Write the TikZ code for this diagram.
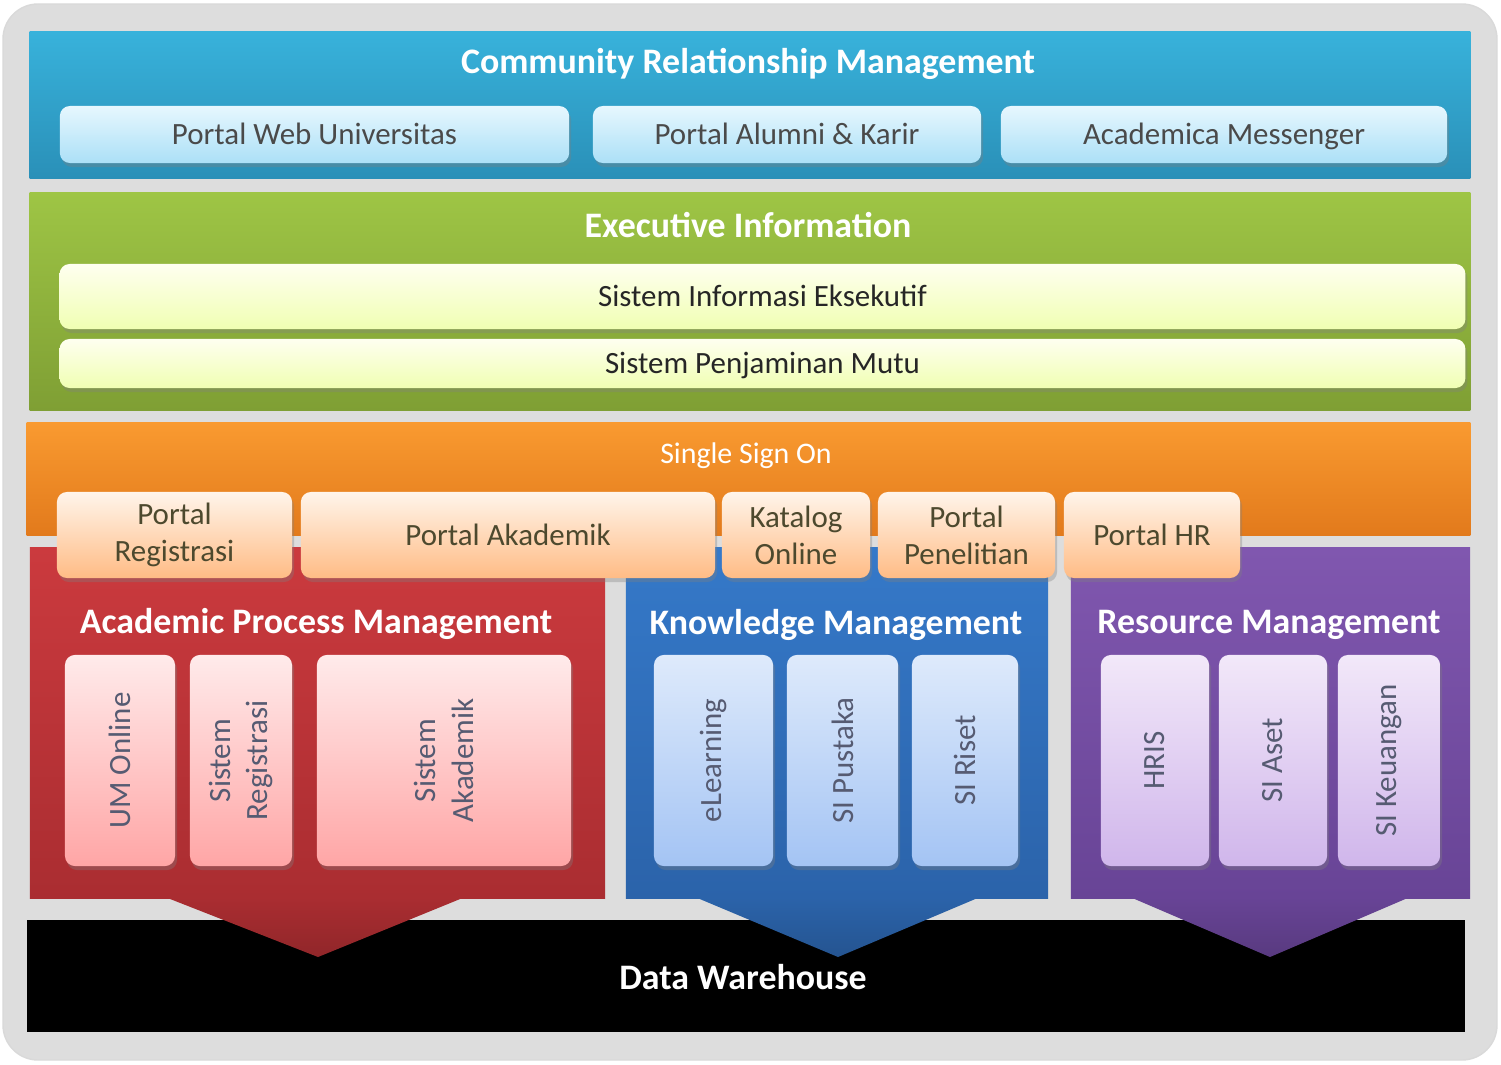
\documentclass[tikz,border=0pt]{standalone}
\usepackage{fontspec}
\setmainfont{Carlito}
\usepackage{tikz}
\usetikzlibrary{shadows}

\definecolor{framegray}{HTML}{DDDDDD}
\definecolor{crmtop}{HTML}{38B2DB}
\definecolor{crmbot}{HTML}{2A90B8}
\definecolor{exetop}{HTML}{9EC545}
\definecolor{exebot}{HTML}{7F9F34}
\definecolor{ssotop}{HTML}{F99A30}
\definecolor{ssobot}{HTML}{E27A1C}
\definecolor{apmtop}{HTML}{CB3A3E}
\definecolor{apmbot}{HTML}{AA2D31}
\definecolor{kmtop}{HTML}{3579C9}
\definecolor{kmbot}{HTML}{2B63AA}
\definecolor{rmtop}{HTML}{8057AF}
\definecolor{rmbot}{HTML}{684496}
\definecolor{crmsubtop}{HTML}{E6F7FE}
\definecolor{crmsubbot}{HTML}{ACE0F7}
\definecolor{kmsubtop}{HTML}{DEEAFB}
\definecolor{kmsubbot}{HTML}{A4C4F4}
\definecolor{rmsubtop}{HTML}{F2E8F9}
\definecolor{rmsubbot}{HTML}{D0B6EB}
\definecolor{subtext}{HTML}{4A4A4A}
\definecolor{vtextc}{HTML}{565B72}

\begin{document}
\begin{tikzpicture}[x=0.01cm,y=-0.01cm,
    band/.style={inner sep=0pt, draw=none},
    head/.style={text=white, font=\bfseries\fontsize{10.2}{12}\selectfont},
    sub/.style={rounded corners=0.1cm, inner sep=0pt, align=center, text=subtext,
        font=\fontsize{8.8}{10.6}\selectfont,
        drop shadow={opacity=0.35, shadow xshift=0.02cm, shadow yshift=-0.04cm}},
    oneline/.style={text height=1.6ex, text depth=0.4ex},
    crmsub/.style={sub, oneline, top color=crmsubtop, bottom color=crmsubbot},
    exesub/.style={sub, oneline, top color=green!4!yellow!6, bottom color=green!20!yellow!30, text=black!85},
    ssosub/.style={sub, top color=orange!8, bottom color=orange!45!white!95!red, text=black!60!olive},
    vbox/.style={sub, minimum height=2.11cm},
    apmsub/.style={vbox, top color=red!8, bottom color=red!35},
    kmsub/.style={vbox, top color=kmsubtop, bottom color=kmsubbot},
    rmsub/.style={vbox, top color=rmsubtop, bottom color=rmsubbot},
    vtext/.style={rotate=90, align=center, text=vtextc, font=\fontsize{8.8}{10.6}\selectfont}]

\useasboundingbox (0,0) rectangle (1501,1064);
\fill[framegray, draw=black!15, rounded corners=0.35cm] (3,4) rectangle (1497,1060);

\node[band, top color=crmtop, bottom color=crmbot, minimum width=14.40cm, minimum height=1.46cm] (crm) at (750,105) {};
\node[band, top color=exetop, bottom color=exebot, minimum width=14.40cm, minimum height=2.17cm] (exe) at (750,301.5) {};
\node[band, top color=ssotop, bottom color=ssobot, minimum width=14.43cm, minimum height=1.12cm] (sso) at (748.5,479) {};
\node[band, top color=apmtop, bottom color=apmbot, minimum width=5.75cm, minimum height=3.50cm] (apm) at (317.5,723) {};
\node[band, top color=kmtop, bottom color=kmbot, minimum width=4.22cm, minimum height=3.50cm] (km) at (837,723) {};
\node[band, top color=rmtop, bottom color=rmbot, minimum width=3.99cm, minimum height=3.50cm] (rm) at (1270.5,723) {};
\node[band, fill=black, minimum width=14.38cm, minimum height=1.12cm] (dw) at (746,976) {};

\shade[top color=apmbot, bottom color=apmbot!85!black] (165,897) -- (465,897) -- (318,957) -- cycle;
\shade[top color=kmbot, bottom color=kmbot!85!black] (695,897) -- (980,897) -- (838,957) -- cycle;
\shade[top color=rmbot, bottom color=rmbot!85!black] (1130,897) -- (1410,897) -- (1270,957) -- cycle;

\node[head] (crmtitle) at (748,64) {Community Relationship Management};
\node[crmsub, minimum width=5.09cm, minimum height=0.57cm] (pwu) at (314.5,134.5) {Portal Web Universitas};
\node[crmsub, minimum width=3.88cm, minimum height=0.57cm] (pak) at (787,134.5) {Portal Alumni \& Karir};
\node[crmsub, minimum width=4.46cm, minimum height=0.57cm] (am) at (1224,134.5) {Academica Messenger};

\node[head] (exetitle) at (748,225) {Executive Information};
\node[exesub, minimum width=14.05cm, minimum height=0.65cm] (sie) at (762.5,296.5) {Sistem Informasi Eksekutif};
\node[exesub, minimum width=14.05cm, minimum height=0.49cm] (spm) at (762.5,363.5) {Sistem Penjaminan Mutu};

\node[text=white, font=\fontsize{8.5}{10}\selectfont] (ssotitle) at (746,456) {Single Sign On};
\node[ssosub, minimum width=2.35cm, minimum height=0.86cm] (preg) at (174.5,535) {Portal\\Registrasi};
\node[ssosub, minimum width=4.14cm, minimum height=0.86cm] (pakad) at (508,535) {Portal Akademik};
\node[ssosub, minimum width=1.48cm, minimum height=0.86cm] (kat) at (796,535) {Katalog\\Online};
\node[ssosub, minimum width=1.77cm, minimum height=0.86cm] (ppen) at (966.5,535) {Portal\\Penelitian};
\node[ssosub, minimum width=1.76cm, minimum height=0.86cm] (phr) at (1152,535) {Portal HR};

\node[head] (apmtitle) at (316,624) {Academic Process Management};
\node[apmsub, minimum width=1.10cm] (um) at (120,760.5) {};
\node[apmsub, minimum width=1.02cm] (sreg) at (241,760.5) {};
\node[apmsub, minimum width=2.54cm] (sak) at (444,760.5) {};
\node[vtext] (umtext) at (um) {UM Online};
\node[vtext] (sregtext) at (sreg) {Sistem\\Registrasi};
\node[vtext] (saktext) at (sak) {Sistem\\Akademik};

\node[head] (kmtitle) at (836,625) {Knowledge Management};
\node[kmsub, minimum width=1.19cm] (el) at (713.5,760.5) {};
\node[kmsub, minimum width=1.11cm] (sip) at (842.5,760.5) {};
\node[kmsub, minimum width=1.06cm] (sir) at (965,760.5) {};
\node[vtext] (eltext) at (el) {eLearning};
\node[vtext] (siptext) at (sip) {SI Pustaka};
\node[vtext] (sirtext) at (sir) {SI Riset};

\node[head] (rmtitle) at (1269,625) {Resource Management};
\node[rmsub, minimum width=1.08cm] (hris) at (1155,760.5) {};
\node[rmsub, minimum width=1.08cm] (sia) at (1273,760.5) {};
\node[rmsub, minimum width=1.02cm] (sik) at (1389,760.5) {};
\node[vtext] (hristext) at (hris) {HRIS};
\node[vtext] (siatext) at (sia) {SI Aset};
\node[vtext] (siktext) at (sik) {SI Keuangan};

\node[head] (dwtitle) at (743,977) {Data Warehouse};
\end{tikzpicture}
\end{document}
